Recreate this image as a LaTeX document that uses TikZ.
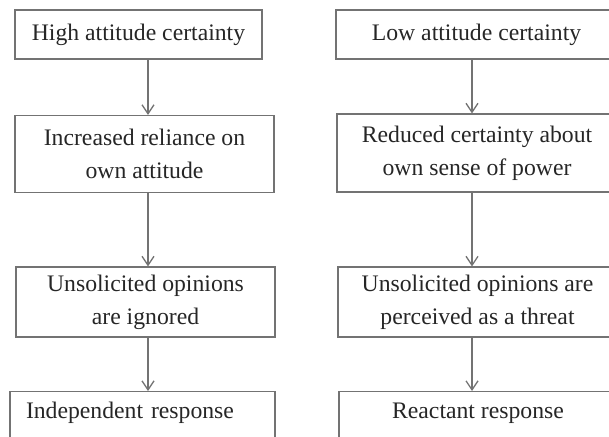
\documentclass[tikz,border=0pt]{standalone}
\usepackage{fontspec}
\setmainfont{Liberation Serif}
\usetikzlibrary{arrows.meta}
\begin{document}
\begin{tikzpicture}[x=1pt,y=-1pt,
	box/.style={draw=black!55,line width=1.1pt,text=black!85,align=center,inner sep=0pt,
		font=\fontsize{23.7}{33}\selectfont},
	endbox/.style={box,anchor=north,text height=17pt,text depth=60pt,inner ysep=10pt},
	arr/.style={draw=black!55,line width=1.3pt,-{Straight Barb[length=9pt,width=12pt,line width=1.3pt]}}]
	\useasboundingbox (0,0) rectangle (609,436);
	\clip (0,0) rectangle (609,436);
	\coordinate (lc) at (148,0);
	\coordinate (rc) at (472,0);
	% left column
	\node[box,minimum width=247pt,minimum height=49pt] (hi) at (138.5,34.5) {High attitude certainty};
	\node[box,minimum width=259pt,minimum height=77pt] (incr) at (144.5,154) {Increased reliance on\\own attitude};
	\node[box,minimum width=259pt,minimum height=70pt] (ign) at (145.5,302) {Unsolicited opinions\\are ignored};
	\node[endbox,text width=233pt,align=left,inner xsep=16pt] (ind) at (142.5,391) {Independent response};
	% right column
	\node[box,minimum width=281pt,minimum height=49pt] (low) at (476.5,34.5) {Low attitude certainty};
	\node[box,minimum width=280pt,minimum height=78pt] (red) at (477,153) {Reduced certainty about\\own sense of power};
	\node[box,minimum width=279pt,minimum height=70pt] (thr) at (477.5,302) {Unsolicited opinions are\\perceived as a threat};
	\node[endbox,minimum width=278pt] (rea) at (478,391) {Reactant response};
	% arrows
	\draw[arr] (hi.south -| lc) -- (incr.north -| lc);
	\draw[arr] (incr.south -| lc) -- (ign.north -| lc);
	\draw[arr] (ign.south -| lc) -- (ind.north -| lc);
	\draw[arr] (low.south -| rc) -- (red.north -| rc);
	\draw[arr] (red.south -| rc) -- (thr.north -| rc);
	\draw[arr] (thr.south -| rc) -- (rea.north -| rc);
\end{tikzpicture}
\end{document}
